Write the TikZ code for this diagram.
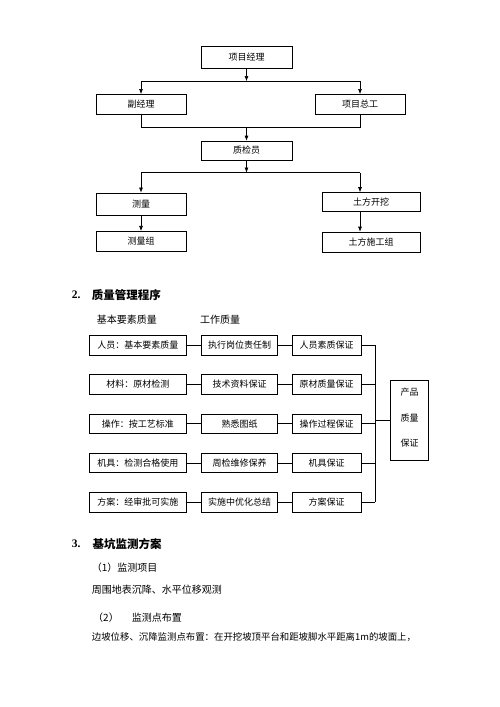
\documentclass[tikz,border=0pt]{standalone}
\usepackage{fontspec}
\setmainfont{Liberation Serif}
\newfontfamily\cjk{Noto Sans CJK SC}
\usetikzlibrary{arrows.meta}
\begin{document}
\begin{tikzpicture}[x=1pt,y=-1pt,
  bx/.style={draw,line width=0.6pt,inner sep=0pt,font=\cjk\fontsize{9}{10}\selectfont},
  ln/.style={line width=0.6pt},
  arr/.style={line width=0.6pt,-{Latex[length=5pt,width=4pt]}},
  txt/.style={anchor=west,inner sep=0pt,font=\cjk\fontsize{10}{12}\selectfont},
  head/.style={anchor=west,inner sep=0pt,font=\cjk\bfseries\fontsize{11.5}{13}\selectfont},
  num/.style={anchor=west,inner sep=0pt,font=\bfseries\fontsize{11.5}{13}\selectfont}]
\useasboundingbox (0,0) rectangle (500,707);
% ---------- organisation chart ----------
\node[bx,minimum width=91pt,minimum height=21.5pt] (pm) at (246.5,57.5) {项目经理};
\node[bx,minimum width=90pt,minimum height=20pt] (dpm) at (141,104.3) {副经理};
\node[bx,minimum width=90pt,minimum height=20pt] (ce) at (360,104.3) {项目总工};
\node[bx,minimum width=91pt,minimum height=19pt] (qc) at (246.5,150.5) {质检员};
\node[bx,line width=0.9pt,minimum width=90pt,minimum height=22pt] (sv) at (141,204) {测量};
\node[bx,minimum width=98pt,minimum height=19pt] (ex) at (371,202) {土方开挖};
\node[bx,minimum width=90pt,minimum height=20.5pt] (svg) at (141,241.5) {测量组};
\node[bx,minimum width=98pt,minimum height=20pt] (exg) at (371,242) {土方施工组};
\coordinate (j1) at (246.5,81);
\coordinate (j2) at (246.5,127);
\coordinate (j3) at (246.5,172.5);
\coordinate (j3r) at (360,172.5);
\draw[arr] (pm.south) -- (j1);
\draw[ln] (dpm.north |- j1) -- (ce.north |- j1);
\draw[arr] (dpm.north |- j1) -- (dpm.north);
\draw[arr] (ce.north |- j1) -- (ce.north);
\draw[ln] (dpm.south) |- (ce.south |- j2) -- (ce.south);
\draw[arr] (j2) -- (qc.north);
\draw[arr] (qc.south) -- (j3);
\draw[ln] (sv.north |- j3) -- (j3r);
\draw[arr] (sv.north |- j3) -- (sv.north);
\draw[arr] (j3r) -- (j3r |- ex.north);
\draw[arr] (sv.south) -- (svg.north);
\draw[arr] (j3r |- ex.south) -- (j3r |- exg.north);
% ---------- section 2 ----------
\node[num] (n2) at (71.7,295) {2.};
\node[head] (h2) at (91.7,295) {质量管理程序};
\node[txt] (l1) at (96.7,319.3) {基本要素质量};
\node[txt] (l2) at (200,319.3) {工作质量};
\foreach \i/\y/\a/\b/\c in {1/345.3/人员：基本要素质量/执行岗位责任制/人员素质保证,
  2/384.5/材料：原材检测/技术资料保证/原材质量保证,
  3/423.7/操作：按工艺标准/熟悉图纸/操作过程保证,
  4/462.9/机具：检测合格使用/周检维修保养/机具保证,
  5/502.1/方案：经审批可实施/实施中优化总结/方案保证}{
  \node[bx,minimum width=97.7pt,minimum height=19.5pt] (a\i) at (137.9,\y) {\a};
  \node[bx,minimum width=75.6pt,minimum height=19.5pt] (b\i) at (239.5,\y) {\b};
  \node[bx,minimum width=68.7pt,minimum height=19.5pt] (c\i) at (326.7,\y) {\c};
  \draw[ln] (a\i.east) -- (b\i.west);
  \draw[ln] (b\i.east) -- (c\i.west);
  \draw[ln] (c\i.east) -- (375,\y);
}
\coordinate (bt) at (375,345.3);
\coordinate (bb) at (375,502.1);
\draw[ln] (bt) -- (bb);
\node[bx,minimum width=38.3pt,minimum height=80pt] (prod) at (409.2,420) {};
\node[inner sep=0pt,font=\cjk\fontsize{9}{10}\selectfont] (p1) at (409.5,392.3) {产品};
\node[inner sep=0pt,font=\cjk\fontsize{9}{10}\selectfont] (p2) at (409.5,418.3) {质量};
\node[inner sep=0pt,font=\cjk\fontsize{9}{10}\selectfont] (p3) at (409.5,443.3) {保证};
\draw[ln] (prod.west -| bt) -- (prod.west);
% ---------- section 3 ----------
\node[num] (n3) at (71.7,544) {3.};
\node[head] (h3) at (92.3,544) {基坑监测方案};
\node[txt] (t1) at (91.7,567.7) {（1）监测项目};
\node[txt] (t2) at (91.7,589.3) {周围地表沉降、水平位移观测};
\node[txt] (t3) at (93,617.3) {（2）};
\node[txt] (t4) at (131.7,617.3) {监测点布置};
\node[txt,font=\cjk\fontsize{9.4}{12}\selectfont] (t5) at (91.7,637.3) {边坡位移、沉降监测点布置：在开挖坡顶平台和距坡脚水平距离1m的坡面上，};
\end{tikzpicture}
\end{document}
